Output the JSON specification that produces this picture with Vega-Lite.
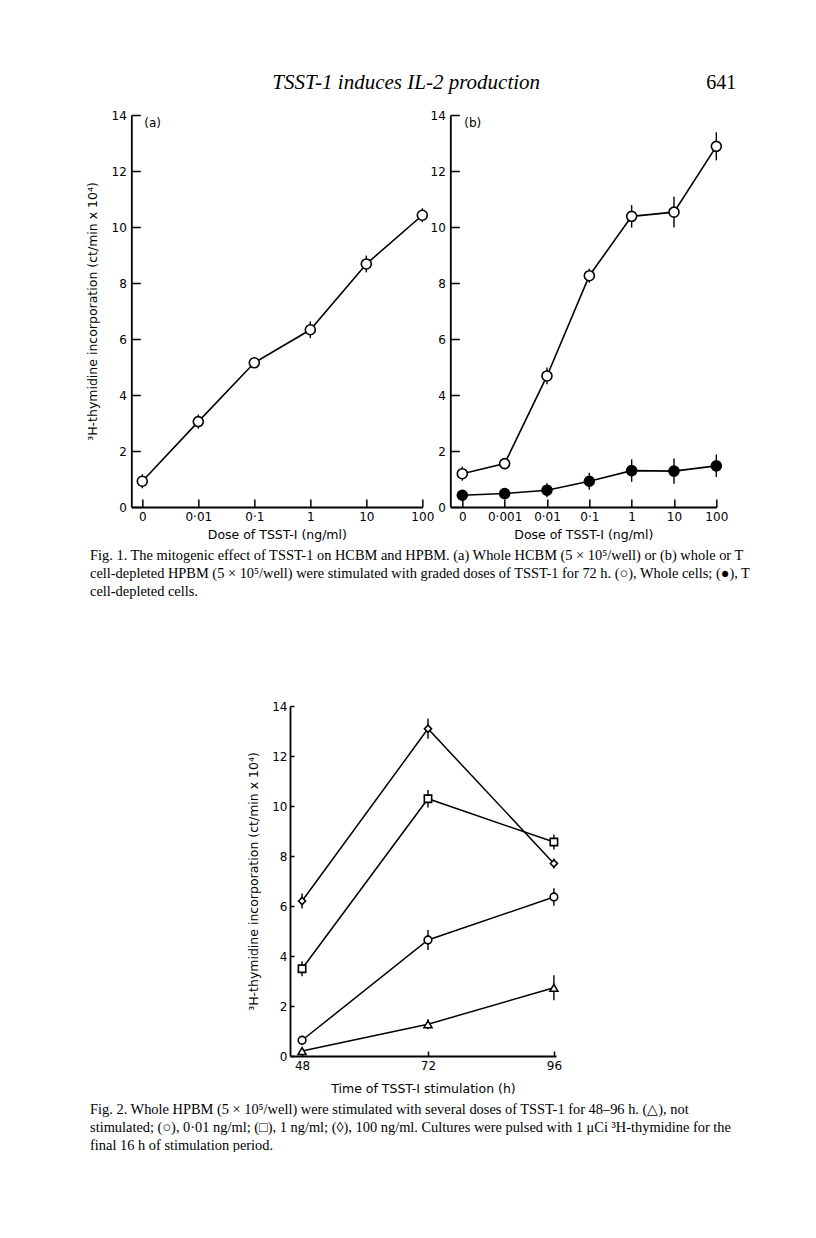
{
  "$schema": "https://vega.github.io/schema/vega-lite/v6.json",
  "background": "white",
  "padding": {"left": 86, "top": 72, "right": 0, "bottom": 0},
  "config": {
    "view": {"stroke": null},
    "axis": {"grid": false, "domainColor": "black", "domainWidth": 1.8, "tickColor": "black", "tickWidth": 1.5, "labelColor": "black", "titleColor": "black", "labelFont": "DejaVu Sans", "titleFont": "DejaVu Sans", "labelFontSize": 12, "titleFontSize": 12.5, "titleFontWeight": "normal"}
  },
  "datasets": {
    "fig1a": [
      {"dose": "0", "cells": "whole", "value": 0.92, "err": 0.25},
      {"dose": "0·01", "cells": "whole", "value": 3.05, "err": 0.25},
      {"dose": "0·1", "cells": "whole", "value": 5.15, "err": 0.12},
      {"dose": "1", "cells": "whole", "value": 6.33, "err": 0.3},
      {"dose": "10", "cells": "whole", "value": 8.68, "err": 0.3},
      {"dose": "100", "cells": "whole", "value": 10.42, "err": 0.25}
    ],
    "fig1b": [
      {"dose": "0", "cells": "whole", "value": 1.19, "err": 0.25},
      {"dose": "0·001", "cells": "whole", "value": 1.55, "err": 0.2},
      {"dose": "0·01", "cells": "whole", "value": 4.68, "err": 0.3},
      {"dose": "0·1", "cells": "whole", "value": 8.26, "err": 0.25},
      {"dose": "1", "cells": "whole", "value": 10.38, "err": 0.4},
      {"dose": "10", "cells": "whole", "value": 10.53, "err": 0.55},
      {"dose": "100", "cells": "whole", "value": 12.88, "err": 0.5},
      {"dose": "0", "cells": "depleted", "value": 0.42, "err": 0.1},
      {"dose": "0·001", "cells": "depleted", "value": 0.48, "err": 0.2},
      {"dose": "0·01", "cells": "depleted", "value": 0.6, "err": 0.25},
      {"dose": "0·1", "cells": "depleted", "value": 0.92, "err": 0.3},
      {"dose": "1", "cells": "depleted", "value": 1.3, "err": 0.4},
      {"dose": "10", "cells": "depleted", "value": 1.28, "err": 0.45},
      {"dose": "100", "cells": "depleted", "value": 1.47, "err": 0.4}
    ],
    "fig2": [
      {"time": 48, "dose": "not stimulated", "value": 0.2, "err": 0.1},
      {"time": 72, "dose": "not stimulated", "value": 1.27, "err": 0.2},
      {"time": 96, "dose": "not stimulated", "value": 2.73, "err": 0.5},
      {"time": 48, "dose": "0·01 ng/ml", "value": 0.63, "err": 0.15},
      {"time": 72, "dose": "0·01 ng/ml", "value": 4.64, "err": 0.4},
      {"time": 96, "dose": "0·01 ng/ml", "value": 6.36, "err": 0.35},
      {"time": 48, "dose": "1 ng/ml", "value": 3.49, "err": 0.3},
      {"time": 72, "dose": "1 ng/ml", "value": 10.29, "err": 0.35},
      {"time": 96, "dose": "1 ng/ml", "value": 8.56, "err": 0.3},
      {"time": 48, "dose": "100 ng/ml", "value": 6.2, "err": 0.3},
      {"time": 72, "dose": "100 ng/ml", "value": 13.09, "err": 0.4},
      {"time": 96, "dose": "100 ng/ml", "value": 7.7, "err": 0.2}
    ]
  },
  "title": {
    "text": [
      "Fig. 2. Whole HPBM (5 × 10⁵/well) were stimulated with several doses of TSST-1 for 48–96 h. (△), not",
      "stimulated; (○), 0·01 ng/ml; (□), 1 ng/ml; (◊), 100 ng/ml. Cultures were pulsed with 1 μCi ³H-thymidine for the",
      "final 16 h of stimulation period."
    ],
    "orient": "bottom", "anchor": "start", "offset": 8, "dx": 4,
    "font": "Liberation Serif", "fontSize": 14.4, "fontWeight": "normal", "color": "black", "lineHeight": 18
  },
  "center": true,
  "spacing": 102,
  "vconcat": [
    {
      "title": {
        "text": [
          "Fig. 1. The mitogenic effect of TSST-1 on HCBM and HPBM. (a) Whole HCBM (5 × 10⁵/well) or (b) whole or T",
          "cell-depleted HPBM (5 × 10⁵/well) were stimulated with graded doses of TSST-1 for 72 h. (○), Whole cells; (●), T",
          "cell-depleted cells."
        ],
        "orient": "bottom", "anchor": "start", "offset": 8, "dx": 4,
        "font": "Liberation Serif", "fontSize": 14.4, "fontWeight": "normal", "color": "black", "lineHeight": 18
      },
      "bounds": "flush",
      "spacing": 28,
      "hconcat": [
        {
          "width": 291, "height": 392,
          "title": {"text": "TSST-1 induces IL-2 production", "anchor": "start", "frame": "group", "dx": 141, "offset": 16, "font": "Liberation Serif", "fontStyle": "italic", "fontSize": 21, "fontWeight": "normal", "color": "black"},
          "layer": [
            {"data": {"name": "fig1a"}, "mark": {"type": "line", "color": "black", "strokeWidth": 1.6},
             "encoding": {
               "x": {"field": "dose", "type": "nominal", "scale": {"type": "point", "domain": ["0", "0·01", "0·1", "1", "10", "100"], "padding": 0.098, "align": 1}, "axis": {"title": "Dose of TSST-I (ng/ml)", "labelAngle": 0, "tickSize": -8, "labelPadding": 12, "titlePadding": 6}},
               "y": {"field": "value", "type": "quantitative", "scale": {"domain": [0, 14], "nice": false}, "axis": {"title": "³H-thymidine incorporation (ct/min x 10⁴)", "values": [0, 2, 4, 6, 8, 10, 12, 14], "tickSize": -9, "labelPadding": 14, "titlePadding": 12}}
             }},
            {"data": {"name": "fig1a"}, "mark": {"type": "errorbar", "ticks": false, "color": "black", "thickness": 1.4},
             "encoding": {"x": {"field": "dose", "type": "nominal", "title": "Dose of TSST-I (ng/ml)"}, "y": {"field": "value", "type": "quantitative", "title": "³H-thymidine incorporation (ct/min x 10⁴)"}, "yError": {"field": "err"}}},
            {"data": {"name": "fig1a"}, "mark": {"type": "point", "shape": "circle", "filled": true, "fill": "white", "stroke": "black", "strokeWidth": 1.6, "size": 100, "opacity": 1},
             "encoding": {"x": {"field": "dose", "type": "nominal", "title": "Dose of TSST-I (ng/ml)"}, "y": {"field": "value", "type": "quantitative", "title": "³H-thymidine incorporation (ct/min x 10⁴)"}}},
            {"data": {"values": [{"label": "(a)", "dose": "0", "value": 13.7}]}, "mark": {"type": "text", "font": "DejaVu Sans", "fontSize": 12, "align": "left", "baseline": "middle", "dx": 2, "color": "black"},
             "encoding": {"x": {"field": "dose", "type": "nominal", "title": "Dose of TSST-I (ng/ml)"}, "y": {"field": "value", "type": "quantitative", "title": "³H-thymidine incorporation (ct/min x 10⁴)"}, "text": {"field": "label", "type": "nominal"}}}
          ]
        },
        {
          "width": 266, "height": 392,
          "title": {"text": "641", "anchor": "end", "frame": "group", "dx": 20, "offset": 16, "font": "Liberation Serif", "fontSize": 20, "fontWeight": "normal", "color": "black"},
          "layer": [
            {"data": {"name": "fig1b"}, "mark": {"type": "line", "color": "black", "strokeWidth": 1.6},
             "encoding": {
               "x": {"field": "dose", "type": "nominal", "scale": {"type": "point", "domain": ["0", "0·001", "0·01", "0·1", "1", "10", "100"], "padding": 0.1417, "align": 1}, "axis": {"title": "Dose of TSST-I (ng/ml)", "labelAngle": 0, "tickSize": -8, "labelPadding": 12, "titlePadding": 6}},
               "y": {"field": "value", "type": "quantitative", "scale": {"domain": [0, 14], "nice": false}, "axis": {"title": null, "values": [0, 2, 4, 6, 8, 10, 12, 14], "tickSize": -9, "labelPadding": 14}},
               "detail": {"field": "cells"}
             }},
            {"data": {"name": "fig1b"}, "mark": {"type": "errorbar", "ticks": false, "color": "black", "thickness": 1.4},
             "encoding": {"x": {"field": "dose", "type": "nominal", "title": "Dose of TSST-I (ng/ml)"}, "y": {"field": "value", "type": "quantitative"}, "yError": {"field": "err"}, "detail": {"field": "cells"}}},
            {"data": {"name": "fig1b"}, "mark": {"type": "point", "shape": "circle", "filled": true, "stroke": "black", "strokeWidth": 1.6, "size": 100, "opacity": 1},
             "encoding": {"x": {"field": "dose", "type": "nominal", "title": "Dose of TSST-I (ng/ml)"}, "y": {"field": "value", "type": "quantitative"}, "fill": {"field": "cells", "type": "nominal", "scale": {"domain": ["whole", "depleted"], "range": ["white", "black"]}, "legend": null}}},
            {"data": {"values": [{"label": "(b)", "dose": "0", "value": 13.7}]}, "mark": {"type": "text", "font": "DejaVu Sans", "fontSize": 12, "align": "left", "baseline": "middle", "dx": 2, "color": "black"},
             "encoding": {"x": {"field": "dose", "type": "nominal", "title": "Dose of TSST-I (ng/ml)"}, "y": {"field": "value", "type": "quantitative"}, "text": {"field": "label", "type": "nominal"}}}
          ]
        }
      ]
    },
    {
      "width": 302, "height": 350,
      "data": {"name": "fig2"},
      "encoding": {
        "x": {"field": "time", "type": "quantitative", "scale": {"domain": [45.7, 96.4], "range": [0, 266], "nice": false, "zero": false}, "axis": {"title": "Time of TSST-I stimulation (h)", "values": [48, 72, 96], "tickSize": -5, "labelPadding": 9, "titlePadding": 11}},
        "y": {"field": "value", "type": "quantitative", "scale": {"domain": [0, 14], "nice": false}, "axis": {"title": "³H-thymidine incorporation (ct/min x 10⁴)", "values": [0, 2, 4, 6, 8, 10, 12, 14], "tickSize": -4, "labelPadding": 7, "titlePadding": 11}}
      },
      "layer": [
        {"mark": {"type": "line", "color": "black", "strokeWidth": 1.5}, "encoding": {"detail": {"field": "dose"}}},
        {"mark": {"type": "errorbar", "ticks": false, "color": "black", "thickness": 1.4}, "encoding": {"y": {"field": "value", "type": "quantitative"}, "yError": {"field": "err"}, "detail": {"field": "dose"}}},
        {"mark": {"type": "point", "filled": true, "fill": "white", "stroke": "black", "strokeWidth": 1.6, "opacity": 1}, "encoding": {
          "shape": {"field": "dose", "type": "nominal", "scale": {"domain": ["not stimulated", "0·01 ng/ml", "1 ng/ml", "100 ng/ml"], "range": ["triangle-up", "circle", "square", "diamond"]}, "legend": null},
          "size": {"field": "dose", "type": "nominal", "scale": {"domain": ["not stimulated", "0·01 ng/ml", "1 ng/ml", "100 ng/ml"], "range": [64, 49, 81, 160]}, "legend": null}
        }}
      ]
    }
  ]
}
